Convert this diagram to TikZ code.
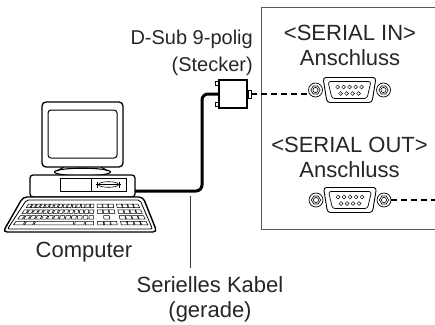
\documentclass[tikz,border=0pt]{standalone}
\usepackage{fontspec}
\setmainfont{Liberation Sans}
% key of the keyboard, given in (u,v) coordinates of the key field
\newcommand\kbkey[4]{%
  \draw[keyline] ({(29+#1*109)*(1-#3)+(12+#1*137)*#3},{203+23*#3})
    -- ({(29+#2*109)*(1-#3)+(12+#2*137)*#3},{203+23*#3})
    -- ({(29+#2*109)*(1-#4)+(12+#2*137)*#4},{203+23*#4})
    -- ({(29+#1*109)*(1-#4)+(12+#1*137)*#4},{203+23*#4}) -- cycle;}
\begin{document}
\begin{tikzpicture}[x=1pt,y=-1pt,
  lbl/.style={font=\fontsize{22}{25}\selectfont, inner sep=0pt, align=center, text=black!85},
  smalllbl/.style={font=\fontsize{20}{27}\selectfont, inner sep=0pt, align=right, text=black!85},
  pcline/.style={line width=1.3, draw=black, fill=white},
  thinpc/.style={line width=0.8, draw=black},
  keyline/.style={line width=0.55, draw=black},
  cable/.style={line width=3, draw=black, rounded corners=6},
  dashline/.style={line width=1.8, draw=black, dash pattern=on 6pt off 4pt},
  leader/.style={line width=0.7, draw=black!80},
  boxline/.style={line width=0.8, draw=black!65},
  dsub/.pic={
    % mounting nuts
    \foreach \s in {-1,1}{
      \draw[fill=white, line width=0.7] (\s*34,0) circle (7);
      \draw[line width=0.6] (\s*34+4.6,0) -- ++(120:4.6) -- ++(180:4.6)
        -- ++(240:4.6) -- ++(300:4.6) -- ++(0:4.6) -- cycle;
      \draw[line width=0.6] (\s*34,0) circle (2.6);
    }
    % shell and contact insert
    \draw[fill=white, line width=0.9, rounded corners=3]
      (-26.5,-12.5) -- (26.5,-12.5) -- (22.5,12.5) -- (-22.5,12.5) -- cycle;
    \draw[line width=0.7, rounded corners=2.5]
      (-21.5,-8.5) -- (21.5,-8.5) -- (17.5,8.5) -- (-17.5,8.5) -- cycle;
    \foreach \px in {-12,-6,0,6,12} \draw[line width=0.5] (\px,-3) circle (1.9);
    \foreach \px in {-9,-3,3,9} \draw[line width=0.5] (\px,3.5) circle (1.9);
    \coordinate (-left) at (-38.7,4);
    \coordinate (-right) at (41,0);
  }]
\useasboundingbox (0,0) rectangle (435,324);

% ---------- projector side panel ----------
\draw[boxline] (435,7) -- (261,7) -- (261,229) -- (435,229);

% multi-line labels are placed by the baseline of their last line
\node[lbl, anchor=base] (inlbl) at (350,65.5) {<SERIAL IN>\\Anschluss};
\node[lbl, anchor=base] (outlbl) at (349.5,177) {<SERIAL OUT>\\Anschluss};

\pic (portin) at (349.5,90) {dsub};
\pic (portout) at (350,200) {dsub};

% ---------- computer ----------
% monitor
\draw[line width=1.1, fill=white] (82.5,172) ellipse (28 and 3.8);
\draw[line width=1.1] (64,167) -- (57,171);
\draw[line width=1.1] (101,167) -- (108,171);
\node[pcline, rounded corners=4, minimum width=81, minimum height=65, inner sep=0]
  (monitor) at (82.5,134.5) {};
\node[thinpc, line width=1, rounded corners=3, minimum width=69, minimum height=48, inner sep=0]
  (screen) at (82.5,134) {};
% system unit
\node[pcline, rounded corners=3, minimum width=105, minimum height=22, inner sep=0]
  (case) at (82.5,186) {};
\draw[thinpc] (60,178) rectangle (126,191);
\draw[thinpc] (91,178) -- (91,191);
\draw[line width=0.6] (108.5,184.5) ellipse (10 and 2.8);
\draw[line width=0.6] (96,184.5) -- (121,184.5);
\draw[line width=0.6] (97.5,181.5) -- (97.5,187.5) (119.5,181.5) -- (119.5,187.5);
% keyboard
\draw[pcline, line width=1.4, rounded corners=4]
  (23,197) -- (143,197) -- (157,232) -- (3,232) -- cycle;
\draw[thinpc, rounded corners=2]
  (26.5,200) -- (140,200) -- (152.5,229) -- (7.5,229) -- cycle;
% main key block
\foreach \r/\n in {0/15,1/14,2/13}{
  \foreach \k in {1,...,\n}{
    \pgfmathsetmacro\ua{(\k-1)*0.6/\n+0.005}
    \pgfmathsetmacro\ub{\k*0.6/\n-0.005}
    \pgfmathsetmacro\va{\r*0.25+0.05}
    \pgfmathsetmacro\vb{(\r+1)*0.25-0.05}
    \kbkey{\ua}{\ub}{\va}{\vb}
  }}
\kbkey{0.005}{0.075}{0.8}{0.95}
\kbkey{0.085}{0.145}{0.8}{0.95}
\kbkey{0.155}{0.445}{0.8}{0.95}
\kbkey{0.455}{0.525}{0.8}{0.95}
\kbkey{0.535}{0.595}{0.8}{0.95}
% cursor block
\foreach \r in {0,1}{
  \foreach \k in {0,1,2}{
    \pgfmathsetmacro\ua{0.625+\k*0.05}
    \pgfmathsetmacro\ub{0.67+\k*0.05}
    \pgfmathsetmacro\va{\r*0.25+0.05}
    \pgfmathsetmacro\vb{(\r+1)*0.25-0.05}
    \kbkey{\ua}{\ub}{\va}{\vb}
  }}
\kbkey{0.675}{0.72}{0.55}{0.7}
\foreach \k in {0,1,2}{
  \pgfmathsetmacro\ua{0.625+\k*0.05}
  \pgfmathsetmacro\ub{0.67+\k*0.05}
  \kbkey{\ua}{\ub}{0.8}{0.95}
}
% numeric pad
\foreach \r in {0,1,2,3}{
  \foreach \k in {0,1,2,3}{
    \pgfmathsetmacro\ua{0.8+\k*0.05}
    \pgfmathsetmacro\ub{0.845+\k*0.05}
    \pgfmathsetmacro\va{\r*0.25+0.05}
    \pgfmathsetmacro\vb{(\r+1)*0.25-0.05}
    \kbkey{\ua}{\ub}{\va}{\vb}
  }}

\node[lbl, anchor=base] (pclbl) at (84,257) {Computer};

% ---------- serial cable with 9-pin plug ----------
\node[draw=black, line width=1.1, fill=white, minimum width=28, minimum height=28, inner sep=0]
  (plug) at (233,94) {};
\draw[line width=0.9, fill=white] (plug.north west) ++(0,2) rectangle ++(-3,4);
\draw[line width=0.9, fill=white] (plug.south west) ++(0,-2) rectangle ++(-3,-4);
\node[draw=black, line width=0.9, fill=white, minimum width=3, minimum height=8, inner sep=0,
  anchor=west] (plugtab) at (plug.east) {};

\coordinate (bend) at (202,191);
\coordinate (cableport) at (135,191);
\draw[cable] (plug.west) -| (bend) -- (cableport);

\draw[dashline] (plugtab.east) -- (portin-left);
\coordinate (outend) at (435,200);
\draw[dashline] (portout-right) -- (outend);

\node[smalllbl, anchor=base east] (dsublbl) at (253,71) {D-Sub 9-polig\\(Stecker)};

\coordinate (leadtop) at (190,196);
\draw[leader] (leadtop) -- ++(0,72);
\node[lbl, anchor=base] (kabellbl) at (210,317) {Serielles Kabel\\(gerade)};
\end{tikzpicture}
\end{document}
